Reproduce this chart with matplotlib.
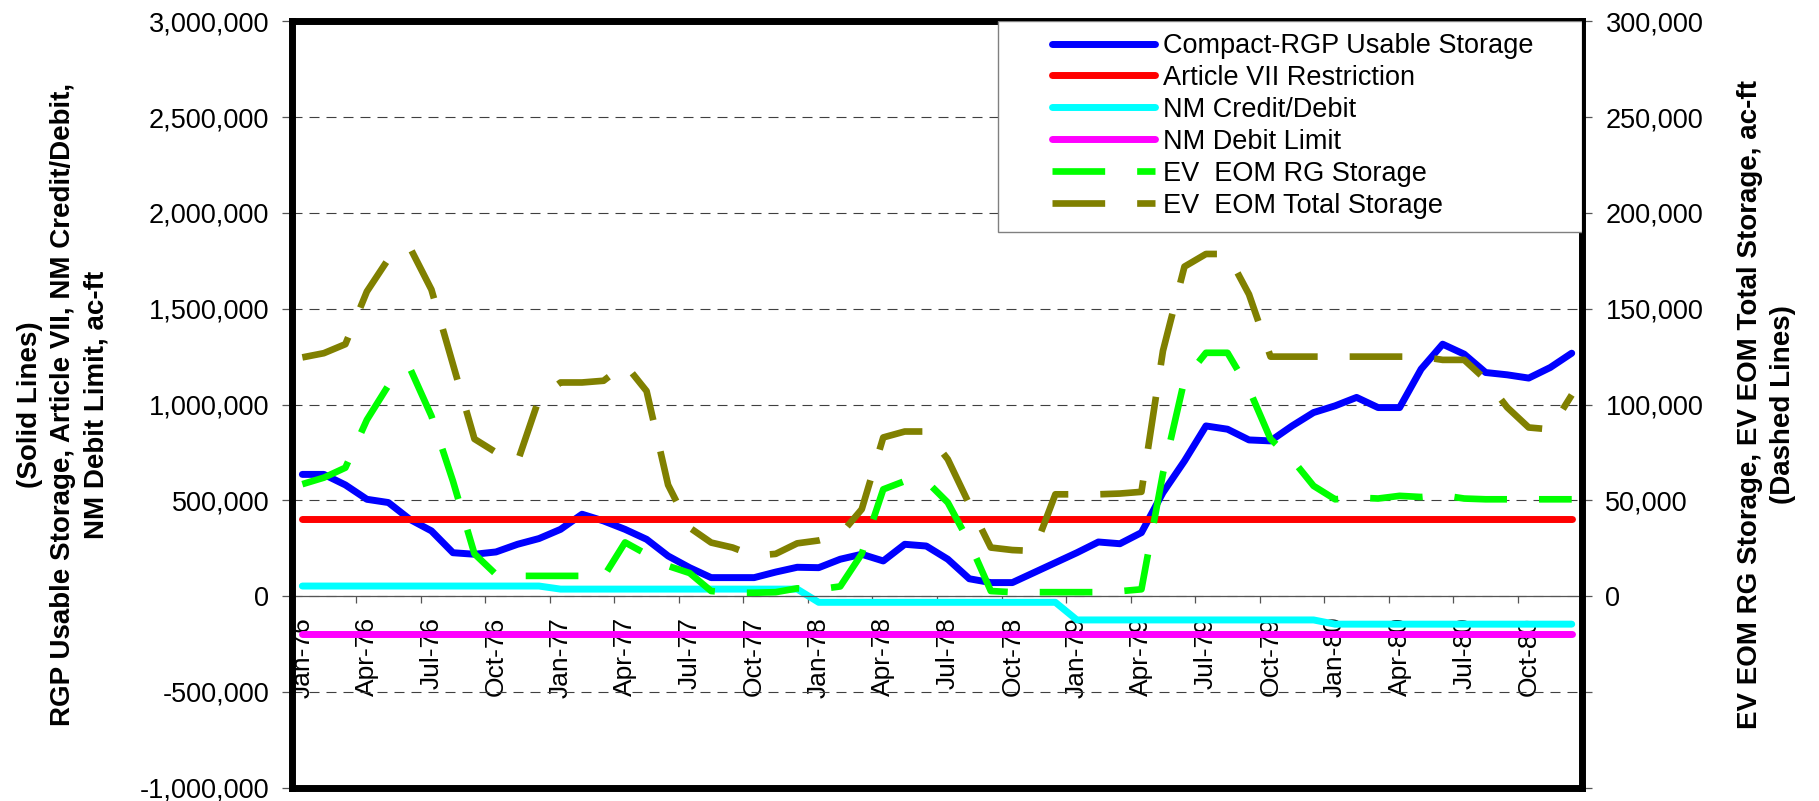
import matplotlib
matplotlib.use('Agg')
import matplotlib.pyplot as plt
from matplotlib.ticker import MultipleLocator, FuncFormatter
from matplotlib.patches import Rectangle
import numpy as np

plt.rcParams['font.family'] = ['Liberation Sans', 'DejaVu Sans']
plt.rcParams['axes.unicode_minus'] = False

# quarterly labels for the 60 monthly categories (Jan-76 .. Dec-80)
tick_labels = ['Jan-76', 'Apr-76', 'Jul-76', 'Oct-76',
               'Jan-77', 'Apr-77', 'Jul-77', 'Oct-77',
               'Jan-78', 'Apr-78', 'Jul-78', 'Oct-78',
               'Jan-79', 'Apr-79', 'Jul-79', 'Oct-79',
               'Jan-80', 'Apr-80', 'Jul-80', 'Oct-80']

# primary axis (solid lines), ac-ft
rgp_storage = [635000, 635000, 580000, 505000, 488000, 400000, 340000, 226000, 218000, 230000, 270000, 300000,
               348000, 427000, 392000, 348000, 296000, 209000, 148000, 96000, 96000, 96000, 125000, 150000,
               148000, 192000, 218000, 183000, 270000, 261000, 192000, 90000, 70000, 70000, 122000, 174000,
               226000, 282000, 273000, 331000, 540000, 705000, 888000, 871000, 815000, 810000, 888000, 958000,
               993000, 1037000, 984000, 984000, 1185000, 1315000, 1263000, 1167000, 1155000, 1138000, 1193000, 1268000]
article7 = [400000, 400000, 400000, 400000, 400000, 400000, 400000, 400000, 400000, 400000, 400000, 400000,
            400000, 400000, 400000, 400000, 400000, 400000, 400000, 400000, 400000, 400000, 400000, 400000,
            400000, 400000, 400000, 400000, 400000, 400000, 400000, 400000, 400000, 400000, 400000, 400000,
            400000, 400000, 400000, 400000, 400000, 400000, 400000, 400000, 400000, 400000, 400000, 400000,
            400000, 400000, 400000, 400000, 400000, 400000, 400000, 400000, 400000, 400000, 400000, 400000]
nm_credit = [52000, 52000, 52000, 52000, 52000, 52000, 52000, 52000, 52000, 52000, 52000, 52000,
             36000, 36000, 36000, 36000, 36000, 36000, 36000, 36000, 36000, 36000, 36000, 36000,
             -33000, -33000, -33000, -33000, -33000, -33000, -33000, -33000, -33000, -33000, -33000, -33000,
             -125000, -125000, -125000, -125000, -125000, -125000, -125000, -125000, -125000, -125000, -125000, -125000,
             -147000, -147000, -147000, -147000, -147000, -147000, -147000, -147000, -147000, -147000, -147000, -147000]
nm_limit = [-200000, -200000, -200000, -200000, -200000, -200000, -200000, -200000, -200000, -200000, -200000, -200000,
            -200000, -200000, -200000, -200000, -200000, -200000, -200000, -200000, -200000, -200000, -200000, -200000,
            -200000, -200000, -200000, -200000, -200000, -200000, -200000, -200000, -200000, -200000, -200000, -200000,
            -200000, -200000, -200000, -200000, -200000, -200000, -200000, -200000, -200000, -200000, -200000, -200000,
            -200000, -200000, -200000, -200000, -200000, -200000, -200000, -200000, -200000, -200000, -200000, -200000]

# secondary axis (dashed lines), ac-ft
ev_rg = [58400, 61800, 67000, 92000, 110000, 119000, 94000, 60000, 22000, 11300, 10500, 10500,
         10500, 10500, 10000, 28000, 21800, 15700, 12000, 2600, 1700, 1700, 2000, 4000,
         3500, 5000, 22000, 55700, 60000, 60000, 48800, 28000, 2600, 2000, 2000, 2000,
         2000, 2000, 2500, 3500, 64000, 113000, 127000, 127000, 108000, 82000, 71400, 57500,
         50500, 51400, 50900, 52300, 51700, 52600, 50900, 50500, 50500, 50500, 50500, 50500]
ev_total = [124600, 126800, 131500, 159000, 176000, 182000, 160000, 121000, 82000, 75000, 70000, 103000,
            111500, 111500, 112400, 121000, 107000, 58000, 35700, 27900, 25300, 21000, 22000, 27500,
            29000, 32000, 45300, 82800, 85900, 85900, 71400, 47900, 25300, 24000, 23500, 53100,
            53100, 53100, 53500, 54400, 128000, 172000, 178600, 178600, 157500, 125000, 125000, 125000,
            125000, 125000, 125000, 125000, 125000, 123300, 123300, 113000, 98500, 88000, 87000, 105000]

x = np.arange(len(rgp_storage))

fig = plt.figure(figsize=(18.19, 8.01), dpi=100)
ax = fig.add_axes([0.1603, 0.01685, 0.70968, 0.95631])

solid = dict(lw=5, solid_capstyle='round', solid_joinstyle='round')
l1, = ax.plot(x, rgp_storage, color='#0000FF', label='Compact-RGP Usable Storage', **solid)
l2, = ax.plot(x, article7, color='#FF0000', label='Article VII Restriction', **solid)
l3, = ax.plot(x, nm_credit, color='#00FFFF', label='NM Credit/Debit', **solid)
l4, = ax.plot(x, nm_limit, color='#FF00FF', label='NM Debit Limit', **solid)

ax.set_xlim(-0.5, len(x) - 0.5)
ax.set_ylim(-1000000, 3000000)
ax.yaxis.set_major_locator(MultipleLocator(500000))
ax.yaxis.set_major_formatter(FuncFormatter(lambda v, p: f'{v:,.0f}'))
ax.grid(axis='y', color='#404040', lw=0.8, linestyle=(0, (9, 6.3)))
ax.set_axisbelow(True)

# category axis crosses at zero
ax.spines['bottom'].set_position(('data', 0))
ax.spines['bottom'].set_color('#555555')
ax.spines['bottom'].set_linewidth(0.9)
for s in ['left', 'right', 'top']:
    ax.spines[s].set_visible(False)
ax.set_xticks(np.arange(0, len(x), 3))
ax.set_xticklabels(tick_labels, rotation=90, fontsize=19)
ax.set_xticks(np.arange(2.5, len(x) - 1, 3), minor=True)
ax.tick_params(axis='x', which='major', length=0, pad=15)
ax.tick_params(axis='x', which='minor', length=5, width=0.9, color='#555555', direction='out')
ax.tick_params(axis='y', length=7, width=0.9, color='#555555', pad=9, labelsize=19.5)

ax2 = ax.twinx()
l5, = ax2.plot(x, ev_rg, color='#00FF00', lw=4.8, dashes=(7.9, 4.8), label='EV  EOM RG Storage')
l6, = ax2.plot(x, ev_total, color='#808000', lw=4.8, dashes=(7.9, 4.8), label='EV  EOM Total Storage')
ax2.set_ylim(-100000, 300000)
ax2.yaxis.set_major_locator(MultipleLocator(50000))
ax2.yaxis.set_major_formatter(FuncFormatter(lambda v, p: '' if v < 0 else f'{v:,.0f}'))
ax2.tick_params(axis='y', length=7, width=0.9, color='#555555', pad=9.5, labelsize=19.5)
for s in ax2.spines.values():
    s.set_linewidth(5)
    s.set_color('black')

# legend box
ax2.add_patch(Rectangle((0.5473, 0.7252), 0.4527, 0.2748, transform=ax2.transAxes,
                        facecolor='white', edgecolor='#808080', lw=1, zorder=4))
leg = ax2.legend(handles=[l1, l2, l3, l4, l5, l6], loc='upper left',
                 bbox_to_anchor=(0.589, 0.985), bbox_transform=ax2.transAxes,
                 frameon=False, fontsize=19.5, handlelength=3.8, handletextpad=0.3,
                 labelspacing=0.22, borderpad=0, borderaxespad=0)
leg.set_zorder(5)

fig.text(63 / 1819, 0.495,
         '(Solid Lines)\nRGP Usable Storage, Article VII, NM Credit/Debit,\nNM Debit Limit, ac-ft',
         rotation=90, ha='center', va='center', fontsize=20, fontweight='bold',
         linespacing=1.35, multialignment='center')
fig.text(1766 / 1819, 0.495,
         'EV EOM RG Storage, EV EOM Total Storage, ac-ft\n(Dashed Lines)',
         rotation=90, ha='center', va='center', fontsize=20, fontweight='bold',
         linespacing=1.35, multialignment='center')

fig.savefig('out.png', dpi=100)
